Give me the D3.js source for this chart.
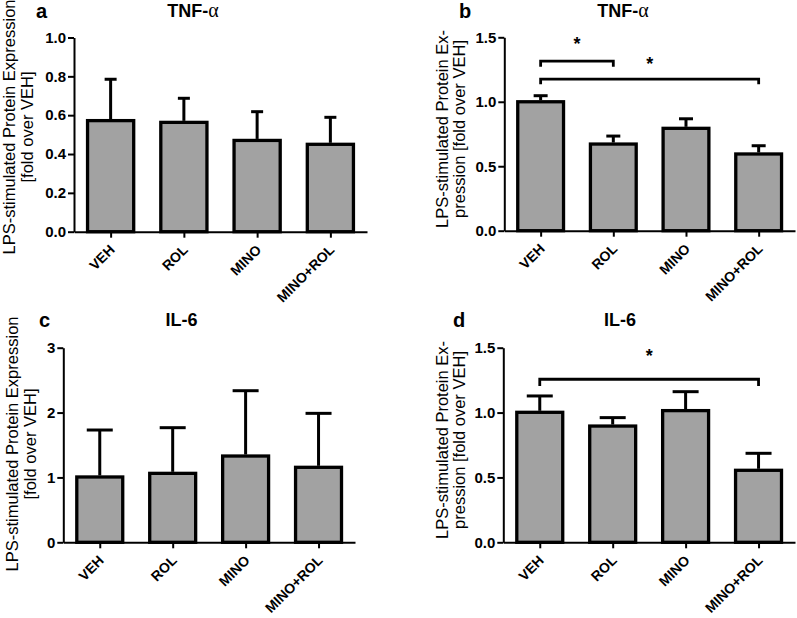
<!DOCTYPE html>
<html>
<head>
<meta charset="utf-8">
<script src="https://cdn.jsdelivr.net/npm/d3@7"></script>
<style>
  html, body { margin: 0; padding: 0; background: #fff; }
  svg { display: block; font-family: Arial, "Liberation Sans", sans-serif; }
</style>
</head>
<body>
<svg id="chart" width="797" height="618"></svg>
<script>
// ---------------- data ----------------
const categories = ["VEH", "ROL", "MINO", "MINO+ROL"];

// panel a: TNF-α
const tnfA_mean = [0.572, 0.563, 0.470, 0.450];
const tnfA_err  = [0.213, 0.124, 0.148, 0.139];
const tnfA_ticks = [0.0, 0.2, 0.4, 0.6, 0.8, 1.0];

// panel b: TNF-α
const tnfB_mean = [1.000, 0.672, 0.794, 0.595];
const tnfB_err  = [0.047, 0.062, 0.074, 0.064];
const tnfB_ticks = [0.0, 0.5, 1.0, 1.5];

// panel c: IL-6
const il6C_mean = [1.007, 1.063, 1.330, 1.156];
const il6C_err  = [0.724, 0.704, 1.007, 0.832];
const il6C_ticks = [0, 1, 2, 3];

// panel d: IL-6
const il6D_mean = [1.002, 0.896, 1.015, 0.555];
const il6D_err  = [0.126, 0.065, 0.146, 0.131];
const il6D_ticks = [0.0, 0.5, 1.0, 1.5];

// significance brackets: [from, to, level, drop-to level, star level]
const tnfB_brackets = [
  { from: "VEH", to: "ROL",      level: 1.315, end: 1.271, star: 1.478 },
  { from: "VEH", to: "MINO+ROL", level: 1.176, end: 1.135, star: 1.323 }
];
const il6D_brackets = [
  { from: "VEH", to: "MINO+ROL", level: 1.257, end: 1.205, star: 1.470 }
];

const titles = [["TNF-", "\u03B1"], ["TNF-", "\u03B1"], ["IL-6", ""], ["IL-6", ""]];
const letters = ["a", "b", "c", "d"];
const yLabelsWide = ["LPS-stimulated Protein Expression", "[fold over VEH]"];
const yLabelsNarrow = ["LPS-stimulated Protein Ex-", "pression [fold over VEH]"];

// ---------------- drawing ----------------
const svg = d3.select("#chart");
const FILL = "#a2a2a2";

function panel(cfg) {
  const g = svg.append("g");
  const x = d3.scalePoint().domain(categories).range([cfg.x0, cfg.x1]).padding(0.5);
  const y = d3.scaleLinear().domain(cfg.domain).range([cfg.yb, cfg.yt]);
  const step = x.step();
  const bw = step * 0.63;

  const data = categories.map((c, i) => ({ c, m: cfg.mean[i], e: cfg.err[i] }));

  // bars
  g.selectAll("rect.bar").data(data).enter().append("rect")
    .attr("x", d => x(d.c) - bw / 2)
    .attr("y", d => y(d.m))
    .attr("width", bw)
    .attr("height", d => y(0) - y(d.m))
    .attr("fill", FILL)
    .attr("stroke", "#000")
    .attr("stroke-width", 3.3);

  // error bars (upper only)
  g.selectAll("line.eb").data(data).enter().append("line")
    .attr("x1", d => x(d.c)).attr("x2", d => x(d.c))
    .attr("y1", d => y(d.m) - 1.5).attr("y2", d => y(d.m + d.e))
    .attr("stroke", "#000").attr("stroke-width", 3);
  g.selectAll("line.cap").data(data).enter().append("line")
    .attr("x1", d => x(d.c) - cfg.cap / 2).attr("x2", d => x(d.c) + cfg.cap / 2)
    .attr("y1", d => y(d.m + d.e)).attr("y2", d => y(d.m + d.e))
    .attr("stroke", "#000").attr("stroke-width", 3);

  // axes
  const ya = g.append("g").attr("transform", `translate(${cfg.x0},0)`)
    .call(d3.axisLeft(y).tickValues(cfg.ticks).tickFormat(d3.format(cfg.fmt))
      .tickSize(6).tickSizeOuter(0).tickPadding(2));
  const xa = g.append("g").attr("transform", `translate(0,${cfg.yb})`)
    .call(d3.axisBottom(x).tickSize(6).tickSizeOuter(0).tickFormat(() => ""));
  [ya, xa].forEach(a => {
    a.select(".domain").attr("stroke", "#000").attr("stroke-width", 2);
    a.selectAll(".tick line").attr("stroke", "#000").attr("stroke-width", 2);
  });
  ya.selectAll(".tick text").attr("font-size", 15).attr("font-weight", "bold")
    .attr("fill", "#000").attr("font-family", "Arial, 'Liberation Sans', sans-serif");

  // rotated x labels
  g.selectAll("text.xl").data(categories).enter().append("text")
    .attr("transform", d => `translate(${x(d) + 5},${cfg.yb + 19}) rotate(-45)`)
    .attr("text-anchor", "end")
    .attr("font-size", 14).attr("font-weight", "bold")
    .text(d => d);

  // y label (two lines)
  cfg.ylab.forEach((t, i) => {
    g.append("text")
      .attr("transform", `translate(${cfg.ylx[i]},${cfg.yly}) rotate(-90)`)
      .attr("text-anchor", "middle")
      .attr("font-size", 16.5)
      .text(t);
  });

  // title & letter
  const tt = g.append("text").attr("x", cfg.tx).attr("y", cfg.ty).attr("text-anchor", "middle")
    .attr("font-size", 18).attr("font-weight", "bold");
  tt.append("tspan").text(cfg.title[0]);
  if (cfg.title[1]) {
    tt.append("tspan").attr("font-family", "'Liberation Serif', 'DejaVu Serif', serif")
      .attr("font-weight", "normal").attr("font-size", 20).text(cfg.title[1]);
  }
  g.append("text").attr("x", cfg.lx).attr("y", cfg.ty + 0.5)
    .attr("font-size", 20).attr("font-weight", "bold").text(cfg.letter);

  // brackets
  (cfg.brackets || []).forEach(b => {
    const xa0 = x(b.from), xa1 = x(b.to);
    g.append("path")
      .attr("d", `M${xa0},${y(b.end)}V${y(b.level)}H${xa1}V${y(b.end)}`)
      .attr("fill", "none").attr("stroke", "#000").attr("stroke-width", 2.8);
    g.append("text")
      .attr("x", (xa0 + xa1) / 2)
      .attr("y", y(b.star) + 10)
      .attr("text-anchor", "middle")
      .attr("font-size", 18).attr("font-weight", "bold")
      .text("*");
  });
}

panel({ mean: tnfA_mean, err: tnfA_err, ticks: tnfA_ticks, domain: [0, 1.0], fmt: ".1f",
  x0: 74, x1: 367, yt: 37.5, yb: 231.7, cap: 12,
  ylab: yLabelsWide, ylx: [15, 33], yly: 127,
  title: titles[0], letter: letters[0], tx: 193, ty: 17, lx: 36 });

panel({ mean: tnfB_mean, err: tnfB_err, ticks: tnfB_ticks, domain: [0, 1.5], fmt: ".1f",
  x0: 504.3, x1: 795, yt: 37.3, yb: 230.7, cap: 14,
  ylab: yLabelsNarrow, ylx: [448, 465], yly: 129,
  title: titles[1], letter: letters[1], tx: 623, ty: 17, lx: 459, brackets: tnfB_brackets });

panel({ mean: il6C_mean, err: il6C_err, ticks: il6C_ticks, domain: [0, 3], fmt: "d",
  x0: 63.3, x1: 355, yt: 347.7, yb: 542.3, cap: 26,
  ylab: yLabelsWide, ylx: [18, 36], yly: 444,
  title: titles[2], letter: letters[2], tx: 181.5, ty: 326, lx: 39 });

panel({ mean: il6D_mean, err: il6D_err, ticks: il6D_ticks, domain: [0, 1.5], fmt: ".1f",
  x0: 503.3, x1: 795, yt: 347.7, yb: 542.3, cap: 26,
  ylab: yLabelsNarrow, ylx: [448, 465], yly: 440,
  title: titles[3], letter: letters[3], tx: 620, ty: 326, lx: 453, brackets: il6D_brackets });
</script>
</body>
</html>
